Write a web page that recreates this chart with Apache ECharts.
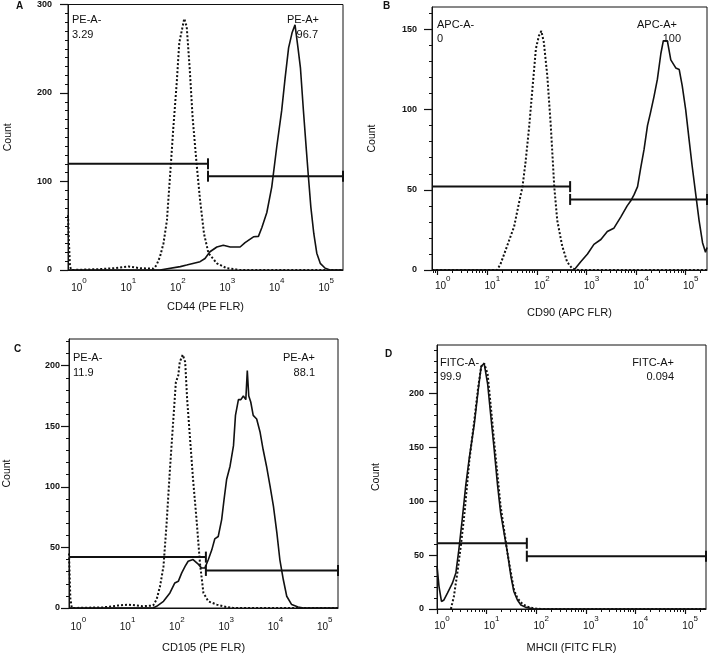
<!DOCTYPE html>
<html>
<head>
<meta charset="utf-8">
<script src="https://cdn.jsdelivr.net/npm/echarts@6/dist/echarts.min.js"></script>
<style>
html,body{margin:0;padding:0;background:#fff;}
#chart{width:709px;height:656px;}
</style>
</head>
<body>
<div id="chart"></div>
<script>
// ---- tick values (x in log10 decades, y in counts) ----
const decadeTicks = [0, 1, 2, 3, 4, 5];
const yTicksA = [0, 100, 200, 300];
const yTicksB = [0, 50, 100, 150];
const yTicksC = [0, 50, 100, 150, 200];
const yTicksD = [0, 50, 100, 150, 200];

// ---- Panel A: CD44 (PE FLR) ----
const aControl = [[-0.12,62],[-0.1,30],[-0.08,4],[-0.05,0],[0.53,1],[0.8,2],[1.1,4],[1.34,2],[1.61,1.5],[1.67,5.6],[1.74,15],[1.81,30],[1.88,56],[1.96,120],[2.01,161],[2.08,213],[2.13,257],[2.19,273],[2.23,284],[2.28,275],[2.34,228],[2.4,172],[2.48,120],[2.55,79],[2.63,41],[2.72,19],[2.89,7.5],[3.09,2],[3.36,0],[5.44,0]];
const aStained = [[-0.12,0],[1.74,0],[2.15,3.8],[2.28,5.6],[2.55,9.4],[2.65,13],[2.75,20.6],[2.89,26],[3.02,28],[3.16,26],[3.36,26],[3.46,31],[3.63,37.5],[3.73,38],[3.8,48],[3.9,65],[4.0,94],[4.1,139],[4.2,180],[4.27,217],[4.34,251],[4.41,268],[4.47,277],[4.53,251],[4.58,228],[4.64,180],[4.7,135],[4.74,106],[4.79,71],[4.85,41],[4.91,19],[4.98,7.5],[5.08,2],[5.18,0],[5.44,0]];
const aGateNeg = [[-0.12,120],[2.71,120]];
const aGatePos = [[2.71,106],[5.44,106]];
const aLabels = ['PE-A-', '3.29', 'PE-A+', '96.7'];

// ---- Panel B: CD90 (APC FLR) ----
const bControl = [[-0.115,0],[1.2,0],[1.27,4],[1.4,15],[1.54,27],[1.64,42],[1.71,52],[1.77,67],[1.84,88],[1.91,113],[1.98,138],[2.04,146],[2.09,149],[2.14,142],[2.21,121],[2.28,90],[2.35,52],[2.41,31],[2.51,15],[2.61,5],[2.71,1],[2.82,0],[5.43,0]];
const bStained = [[-0.115,0],[2.75,0],[2.88,5],[3.02,10],[3.15,16],[3.29,19],[3.42,24],[3.55,26],[3.69,33],[3.82,40],[3.89,43],[3.96,47],[4.03,52],[4.09,63],[4.16,75],[4.23,90],[4.29,98],[4.36,108],[4.43,119],[4.5,135],[4.55,143],[4.63,143],[4.7,131],[4.8,126],[4.87,125],[4.93,115],[5.0,100],[5.07,81],[5.13,65],[5.2,48],[5.27,31],[5.34,17],[5.4,11],[5.43,14]];
const bGateNeg = [[-0.115,52],[2.67,52]];
const bGatePos = [[2.67,44],[5.43,44]];
const bLabels = ['APC-A-', '0', 'APC-A+', '100'];

// ---- Panel C: CD105 (PE FLR) ----
const cControl = [[-0.087,45],[-0.06,8],[-0.03,0],[0.6,0.5],[0.9,2],[1.12,2.8],[1.4,1.5],[1.62,2],[1.69,7],[1.76,18],[1.83,34.5],[1.89,68],[1.96,114],[2.03,156],[2.08,186],[2.13,192],[2.16,203],[2.22,209],[2.27,203],[2.31,172],[2.37,139],[2.43,106],[2.5,73],[2.57,37],[2.64,12.4],[2.74,5.5],[2.91,2.8],[3.11,0.8],[3.25,0],[5.37,0]];
const cStained = [[-0.087,0],[1.62,0],[1.69,1.4],[1.83,5.5],[1.96,12.4],[2.06,20.7],[2.13,22],[2.2,29],[2.27,34.5],[2.33,38.6],[2.43,40],[2.54,36],[2.6,33],[2.67,33],[2.74,40],[2.81,48],[2.87,57],[2.94,59],[3.01,73],[3.06,90],[3.11,106],[3.18,117],[3.25,134],[3.29,159],[3.35,172],[3.4,172],[3.45,175],[3.5,172],[3.53,196],[3.56,175],[3.6,170],[3.65,159],[3.72,156],[3.79,145],[3.85,131],[3.92,117],[3.99,101],[4.06,84],[4.13,62],[4.19,40],[4.26,23.5],[4.33,9.7],[4.43,2.8],[4.56,0.8],[4.67,0],[5.37,0]];
const cGateNeg = [[-0.087,42],[2.69,42]];
const cGatePos = [[2.69,31],[5.37,31]];
const cLabels = ['PE-A-', '11.9', 'PE-A+', '88.1'];

// ---- Panel D: MHCII (FITC FLR) ----
const dControl = [[0.28,0],[0.34,11.6],[0.41,33.5],[0.48,58.6],[0.55,87],[0.65,137],[0.75,174.5],[0.83,206],[0.89,225],[0.95,228],[1.02,218],[1.08,190],[1.15,156],[1.22,124],[1.28,96],[1.35,74],[1.42,52],[1.49,33.5],[1.55,18],[1.62,10],[1.72,4.7],[1.82,2.2],[1.96,0.6],[2.09,0],[5.42,0]];
const dStained = [[0,40],[0.04,21],[0.09,7],[0.14,8.4],[0.21,14.7],[0.31,24],[0.38,33.5],[0.44,55],[0.51,84],[0.58,115],[0.65,140],[0.75,171],[0.83,203],[0.89,225],[0.95,228],[1.02,209],[1.08,181],[1.15,149],[1.22,115],[1.28,90],[1.35,71],[1.42,52],[1.49,30],[1.55,16],[1.62,8.4],[1.69,3.7],[1.79,1.5],[1.96,0],[5.42,0]];
const dGateNeg = [[0,61],[1.81,61]];
const dGatePos = [[1.81,49],[5.42,49]];
const dLabels = ['FITC-A-', '99.9', 'FITC-A+', '0.094'];

// ---- helpers ----
const FONT = 'Liberation Sans, Arial, sans-serif';
const minorDecadeTicks = [];
for (let n = -1; n <= 5; n++) for (let k = 1; k <= 9; k++) minorDecadeTicks.push(n + Math.log10(k));
function tens(max) { const r = []; for (let v = 0; v <= max; v += 10) r.push(v); return r; }

const panels = [
  {letter:'A', xName:'CD44 (PE FLR)', ctrl:aControl, stn:aStained, gn:aGateNeg, gp:aGatePos, labels:aLabels, yTicks:yTicksA,
   ymax:300, xmin:-0.12, xmax:5.44, g:{left:68, top:3, width:275, height:267}, xTicks:false,
   ylm:16, yng:54, xng:31, xlm:7, letterPos:[20,7], txt:{l:72, r:319, y1:20, y2:35, r2:318}},
  {letter:'B', xName:'CD90 (APC FLR)', ctrl:bControl, stn:bStained, gn:bGateNeg, gp:bGatePos, labels:bLabels, yTicks:yTicksB,
   ymax:164, xmin:-0.115, xmax:5.43, g:{left:432, top:7, width:275, height:263}, xTicks:true,
   ylm:15, yng:54, xng:37, xlm:5, letterPos:[387,7], txt:{l:437, r:677, y1:25, y2:39, r2:681}},
  {letter:'C', xName:'CD105 (PE FLR)', ctrl:cControl, stn:cStained, gn:cGateNeg, gp:cGatePos, labels:cLabels, yTicks:yTicksC,
   ymax:222, xmin:-0.087, xmax:5.37, g:{left:69, top:339, width:269, height:269}, xTicks:false,
   ylm:9, yng:56, xng:34, xlm:8, letterPos:[18,350], txt:{l:73, r:315, y1:358, y2:373, r2:315}},
  {letter:'D', xName:'MHCII (FITC FLR)', ctrl:dControl, stn:dStained, gn:dGateNeg, gp:dGatePos, labels:dLabels, yTicks:yTicksD,
   ymax:245, xmin:0, xmax:5.42, g:{left:437, top:345, width:269, height:264}, xTicks:true,
   ylm:13, yng:55, xng:33, xlm:6, letterPos:[389,355], txt:{l:440, r:674, y1:363, y2:377, r2:674}}
];

const grid = [], xAxis = [], yAxis = [], series = [], graphic = [];
const black = '#111';
panels.forEach((p, i) => {
  grid.push(Object.assign({show:true, borderColor:black, borderWidth:1, backgroundColor:'transparent'}, p.g));
  xAxis.push({
    gridIndex:i, type:'value', position:'bottom', min:p.xmin, max:p.xmax,
    axisLine:{show:true, onZero:false, lineStyle:{color:black, width:1}},
    axisTick:{show:p.xTicks, customValues:decadeTicks, length:5, lineStyle:{color:black, width:1.2}},
    axisLabel:{customValues:decadeTicks, margin:p.xlm, padding:[0,0,0,10], color:black,
      formatter:(v) => '{b|10}{s|' + Math.round(v) + '}',
      rich:{b:{fontSize:10, fontFamily:FONT, color:black, lineHeight:16, verticalAlign:'bottom'},
            s:{fontSize:8, fontFamily:FONT, color:black, lineHeight:9, verticalAlign:'top'}}},
    splitLine:{show:false},
    name:p.xName, nameLocation:'middle', nameGap:p.xng,
    nameTextStyle:{fontSize:11, fontFamily:FONT, color:black}
  });
  xAxis.push({
    gridIndex:i, type:'value', position:'bottom', min:p.xmin, max:p.xmax,
    axisLine:{show:false, onZero:false},
    axisTick:{show:p.xTicks, customValues:minorDecadeTicks.filter(v => v >= p.xmin && v <= p.xmax), length:3, lineStyle:{color:black, width:1}},
    axisLabel:{show:false}, splitLine:{show:false}
  });
  yAxis.push({
    gridIndex:i, type:'value', position:'left', min:0, max:p.ymax,
    axisLine:{show:true, onZero:false, lineStyle:{color:black, width:1}},
    axisTick:{show:true, customValues:p.yTicks, length:8, lineStyle:{color:black, width:1.2}},
    axisLabel:{customValues:p.yTicks, margin:p.ylm, fontSize:9, fontWeight:'bold', fontFamily:FONT, color:black},
    splitLine:{show:false},
    name:'Count', nameLocation:'middle', nameGap:p.yng,
    nameTextStyle:{fontSize:10.5, fontFamily:FONT, color:black}
  });
  yAxis.push({
    gridIndex:i, type:'value', position:'left', min:0, max:p.ymax,
    axisLine:{show:false, onZero:false},
    axisTick:{show:true, customValues:tens(p.ymax), length:3, lineStyle:{color:black, width:1}},
    axisLabel:{show:false}, splitLine:{show:false}
  });
  const xi = 2 * i, yi = 2 * i;
  series.push({type:'line', xAxisIndex:xi, yAxisIndex:yi, data:p.ctrl, showSymbol:false, symbol:'none',
    lineStyle:{color:black, width:2, type:'dotted'}, z:3, silent:true});
  series.push({type:'line', xAxisIndex:xi, yAxisIndex:yi, data:p.stn, showSymbol:false, symbol:'none',
    lineStyle:{color:black, width:1.6}, z:4, silent:true});
  const cap = {symbol:'rect', symbolSize:[2, 11]};
  series.push({type:'line', xAxisIndex:xi, yAxisIndex:yi, showSymbol:true, symbol:'rect', symbolSize:[2,11],
    data:[{value:p.gn[0], symbol:'none'}, Object.assign({value:p.gn[1]}, cap)],
    itemStyle:{color:black}, lineStyle:{color:black, width:2}, z:5, silent:true, clip:false});
  series.push({type:'line', xAxisIndex:xi, yAxisIndex:yi, showSymbol:true, symbol:'rect', symbolSize:[2,11],
    data:[Object.assign({value:p.gp[0]}, cap), Object.assign({value:p.gp[1]}, cap)],
    itemStyle:{color:black}, lineStyle:{color:black, width:2}, z:5, silent:true, clip:false});

  const ts = {fontSize:11, fontFamily:FONT, fill:black};
  graphic.push({type:'text', left:p.letterPos[0]-4, top:p.letterPos[1]-6, style:Object.assign({}, ts, {text:p.letter, fontWeight:'bold', fontSize:10})});
  graphic.push({type:'text', x:p.txt.l, y:p.txt.y1, style:Object.assign({}, ts, {text:p.labels[0], textVerticalAlign:'middle'})});
  graphic.push({type:'text', x:p.txt.l, y:p.txt.y2, style:Object.assign({}, ts, {text:p.labels[1], textVerticalAlign:'middle'})});
  graphic.push({type:'text', x:p.txt.r, y:p.txt.y1, style:Object.assign({}, ts, {text:p.labels[2], textAlign:'right', textVerticalAlign:'middle'})});
  graphic.push({type:'text', x:p.txt.r2, y:p.txt.y2, style:Object.assign({}, ts, {text:p.labels[3], textAlign:'right', textVerticalAlign:'middle'})});
});

const chart = echarts.init(document.getElementById('chart'), null, {renderer:'canvas'});
chart.setOption({animation:false, backgroundColor:'#fff', grid, xAxis, yAxis, series, graphic});
</script>
</body>
</html>
